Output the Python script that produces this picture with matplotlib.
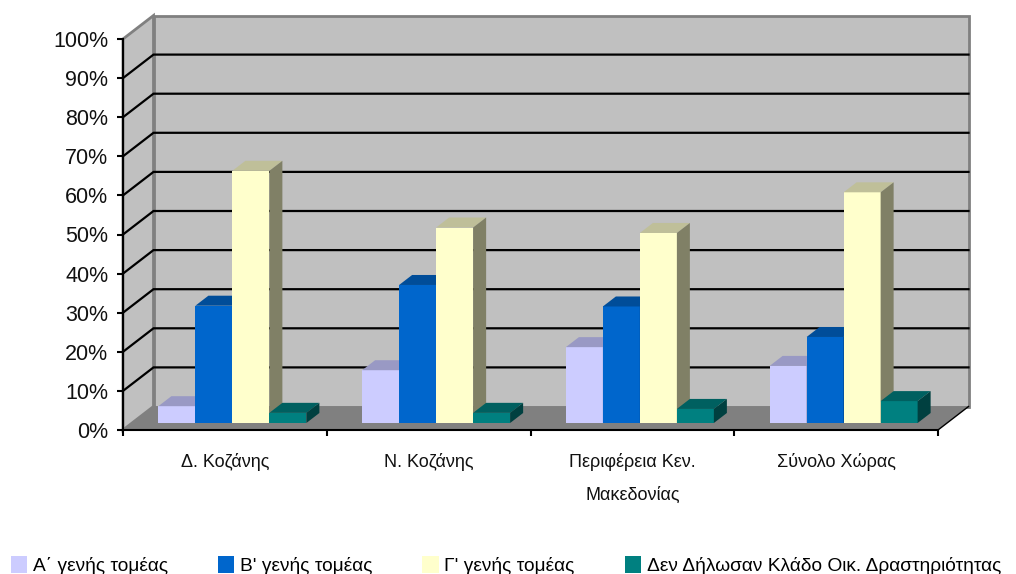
#!/usr/bin/env python3
import numpy as np
import matplotlib
matplotlib.use('Agg')
import matplotlib.pyplot as plt
from matplotlib.patches import Polygon, Patch

plt.rcParams['font.family'] = ['Liberation Sans', 'DejaVu Sans']

categories = ['Δ. Κοζάνης', 'Ν. Κοζάνης', 'Περιφέρεια Κεν.\nΜακεδονίας', 'Σύνολο Χώρας']
series_names = ['Α΄ γενής τομέας', "Β' γενής τομέας", "Γ' γενής τομέας",
                'Δεν Δήλωσαν Κλάδο Οικ. Δραστηριότητας']
primary = [4.3, 13.5, 19.4, 14.6]
secondary = [30.0, 35.3, 29.8, 22.0]
tertiary = [64.5, 50.0, 48.6, 59.0]
undeclared = [2.6, 2.6, 3.6, 5.6]
y_ticks = [0, 10, 20, 30, 40, 50, 60, 70, 80, 90, 100]

series = [primary, secondary, tertiary, undeclared]
# front, top, side
colors = [('#CCCCFF', '#9999C4', '#808099'),
          ('#0066CC', '#004D99', '#003366'),
          ('#FFFFCC', '#BFBF99', '#808066'),
          ('#008080', '#006060', '#004040')]

W, H = 1016, 574
fig = plt.figure(figsize=(W / 100, H / 100), dpi=100)
L, R, B, T = 123, 938, 430, 39
ax = fig.add_axes([L / W, 1 - B / H, (R - L) / W, (B - T) / H])
ax.set_xlim(0, 4)
ax.set_ylim(0, 100)
ax.patch.set_visible(False)

# pixel sizes to data units
px = 4 / (R - L)
py = 100 / (B - T)
wall_dx, wall_dy = 30.5 * px, 23.5 * py
bar_off_x, bar_off_y = 7.5 * px, 7 * py
bar_dx, bar_dy = 13 * px, 10 * py


def poly(pts, fc, z, ec='none', lw=0):
    ax.add_patch(Polygon(pts, closed=True, facecolor=fc, edgecolor=ec, linewidth=lw,
                         zorder=z, clip_on=False))


# walls and floor
poly([(wall_dx, wall_dy), (4 + wall_dx, wall_dy), (4 + wall_dx, 100 + wall_dy), (wall_dx, 100 + wall_dy)],
     '#C0C0C0', 1, '#808080', 2)
poly([(0, 0), (wall_dx, wall_dy), (wall_dx, 100 + wall_dy), (0, 100)], '#C0C0C0', 1, '#808080', 2)
poly([(0, 0), (4, 0), (4 + wall_dx, wall_dy), (wall_dx, wall_dy)], '#808080', 2)
ax.plot([4, 4 + wall_dx], [0, wall_dy], color='black', lw=1, zorder=3, clip_on=False)

for v in y_ticks[1:-1]:
    ax.plot([0, wall_dx, 4 + wall_dx], [v, v + wall_dy, v + wall_dy], color='black', lw=1.6,
            zorder=3, clip_on=False, solid_joinstyle='miter')

# bars, left to right so each one covers the side of the previous one
bar_w = 37 * px
n = len(series)
z = 5
for c in range(len(categories)):
    x0 = c + 0.5 - n * bar_w / 2 + bar_off_x
    for s in range(n):
        v = series[s][c]
        x = x0 + s * bar_w
        base = bar_off_y
        front, top, side = colors[s]
        ax.bar(x, v, bar_w, bottom=base, align='edge', color=front, zorder=z, clip_on=False)
        poly([(x, base + v), (x + bar_w, base + v), (x + bar_w + bar_dx, base + v + bar_dy),
              (x + bar_dx, base + v + bar_dy)], top, z)
        poly([(x + bar_w, base), (x + bar_w + bar_dx, base + bar_dy),
              (x + bar_w + bar_dx, base + v + bar_dy), (x + bar_w, base + v)], side, z)
        z += 1

for sp in ['top', 'right']:
    ax.spines[sp].set_visible(False)
for sp in ['left', 'bottom']:
    ax.spines[sp].set_linewidth(1.5)
    ax.spines[sp].set_zorder(50)

ax.set_yticks(y_ticks)
ax.set_yticklabels(['%d%%' % v for v in y_ticks], fontsize=15.5, color='#111111')
ax.tick_params(axis='y', length=4, width=1.5, pad=6.5)

ax.set_xticks(np.arange(5))
ax.set_xticklabels([])
ax.set_xticks(np.arange(4) + 0.5, minor=True)
ax.set_xticklabels(categories, minor=True, fontsize=13, linespacing=2.2, color='#111111')
ax.tick_params(axis='x', which='major', length=4, width=1.5)
ax.tick_params(axis='x', which='minor', length=0, pad=16.5)

handles = [Patch(facecolor=colors[i][0], label=series_names[i]) for i in range(n)]
fig.legend(handles=handles, ncol=4, frameon=False, fontsize=13.8, loc='lower left',
           bbox_to_anchor=(11 / W, -1 / H), borderaxespad=0, borderpad=0,
           handlelength=0.85, handleheight=1.0, handletextpad=0.3, columnspacing=2.6)

fig.savefig('out.png', dpi=100)
